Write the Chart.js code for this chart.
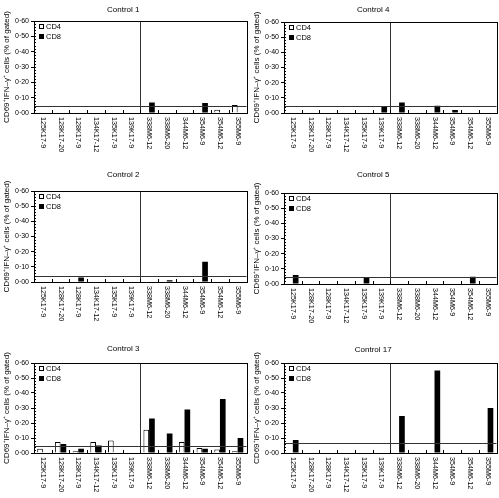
<!DOCTYPE html>
<html>
<head>
<meta charset="utf-8">
<script src="https://cdn.jsdelivr.net/npm/chart.js@4"></script>
<style>
  html, body { margin: 0; padding: 0; background: #fff; }
  #wrap { position: relative; width: 499px; height: 498px; }
  canvas { position: absolute; }
</style>
</head>
<body>
<div id="wrap"></div>
<script>
Chart.defaults.font.family = '"Liberation Sans", Arial, sans-serif';
Chart.defaults.color = '#000';

const categories = ['125K17-9', '128K17-20', '128K17-9', '134K17-12', '135K17-9', '139K17-9',
                    '338M6-12', '338M6-20', '344M6-12', '354M6-9', '354M6-12', '355M6-9'];
const yTicks = [0, 0.1, 0.2, 0.3, 0.4, 0.5, 0.6];

// values, % of gated
const control1CD4 = [null, null, null, null, null, null, null, null, null, null, 0.022, 0.052];
const control1CD8 = [null, null, null, null, null, null, 0.068, null, null, 0.066, null, null];
const control4CD4 = [null, null, null, null, null, null, null, null, null, null, null, null];
const control4CD8 = [null, null, null, null, null, 0.04, 0.07, null, 0.047, 0.02, null, null];
const control2CD4 = [null, null, null, null, null, null, null, null, null, null, null, null];
const control2CD8 = [null, null, 0.03, null, null, null, null, 0.012, null, 0.133, null, null];
const control5CD4 = [null, null, null, null, null, null, null, null, null, null, null, null];
const control5CD8 = [0.06, null, null, null, 0.045, null, null, null, null, null, 0.048, null];
const control3CD4 = [0.029, 0.073, 0.011, 0.073, 0.084, null, 0.155, null, 0.073, 0.033, 0.024, 0.011];
const control3CD8 = [null, 0.06, 0.029, 0.05, null, null, 0.23, 0.13, 0.29, 0.029, 0.36, 0.10];
const control17CD4 = [null, null, null, null, null, null, null, null, null, null, null, null];
const control17CD8 = [0.086, null, null, null, null, null, 0.247, null, 0.55, null, null, 0.30];

// cut-off line per donor
const thresholds = { c1: 0.048, c4: 0.045, c2: 0.04, c5: 0.045, c3: 0.046, c17: 0.064 };

const panels = [
    { title: 'Control 1',  cd4: control1CD4,  cd8: control1CD8,  cut: thresholds.c1,  x: 0,   y: 0,   h: 165, plotTop: 21, plotBottom: 113, titleY: 10 },
    { title: 'Control 4',  cd4: control4CD4,  cd8: control4CD8,  cut: thresholds.c4,  x: 250, y: 0,   h: 165, plotTop: 22, plotBottom: 113, titleY: 10 },
    { title: 'Control 2',  cd4: control2CD4,  cd8: control2CD8,  cut: thresholds.c2,  x: 0,   y: 165, h: 165, plotTop: 26, plotBottom: 117, titleY: 9.5 },
    { title: 'Control 5',  cd4: control5CD4,  cd8: control5CD8,  cut: thresholds.c5,  x: 250, y: 165, h: 165, plotTop: 28, plotBottom: 119, titleY: 9.5 },
    { title: 'Control 3',  cd4: control3CD4,  cd8: control3CD8,  cut: thresholds.c3,  x: 0,   y: 330, h: 168, plotTop: 33, plotBottom: 123, titleY: 19 },
    { title: 'Control 17', cd4: control17CD4, cd8: control17CD8, cut: thresholds.c17, x: 250, y: 330, h: 168, plotTop: 33, plotBottom: 123, titleY: 20 },
];

const W = 249, PLOT_LEFT = 34, PLOT_RIGHT = 246.5;
const TITLE_SIZE = 8;

/// frame, cut-off line, separator, minor ticks, legend and rotated labels
const extras = {
    id: 'extras',
    afterDatasetsDraw(chart) {
        const { ctx, chartArea: a, scales: { x, y } } = chart;
        const cut = chart.options.plugins.extras.cut;
        ctx.save();
        ctx.strokeStyle = '#000';
        ctx.lineWidth = 1;

        // cut-off line
        const yc = Math.round(y.getPixelForValue(cut)) + 0.5;
        ctx.strokeStyle = '#333';
        ctx.beginPath(); ctx.moveTo(a.left, yc); ctx.lineTo(a.right, yc); ctx.stroke();

        // K17 | M6 separator
        const xs = Math.round(x.getPixelForValue(5.5)) + 0.5;
        ctx.beginPath(); ctx.moveTo(xs, a.top); ctx.lineTo(xs, a.bottom); ctx.stroke();

        // frame
        ctx.strokeStyle = '#000';
        ctx.strokeRect(Math.round(a.left) + 0.5, Math.round(a.top) + 0.5,
                       Math.round(a.right - a.left), Math.round(a.bottom - a.top));

        // minor y ticks, inward
        ctx.beginPath();
        for (let v = 0.02; v < 0.6; v += 0.02) {
            const py = Math.round(y.getPixelForValue(v)) + 0.5;
            ctx.moveTo(a.left, py); ctx.lineTo(a.left + 2, py);
        }
        // x ticks at category boundaries, inward
        for (let i = 0; i < categories.length - 1; i++) {
            const px = Math.round(x.getPixelForValue(i + 0.5)) + 0.5;
            ctx.moveTo(px, a.bottom); ctx.lineTo(px, a.bottom - 3);
        }
        ctx.stroke();

        // legend
        ctx.font = '7.5px "Liberation Sans", Arial, sans-serif';
        ctx.textBaseline = 'middle';
        ctx.textAlign = 'left';
        ctx.fillStyle = '#000';
        const lx = Math.round(a.left) + 5;
        const ly1 = Math.round(a.top) + 6, ly2 = Math.round(a.top) + 16;
        ctx.strokeRect(lx + 0.5, ly1 - 2.5, 4, 4);
        ctx.fillRect(lx, ly2 - 3, 5, 5);
        ctx.fillText('CD4', lx + 7, ly1);
        ctx.fillText('CD8', lx + 7, ly2);

        // category labels, reading downward
        ctx.font = '7.2px "Liberation Sans", Arial, sans-serif';
        categories.forEach((lab, i) => {
            const px = x.getPixelForValue(i);
            ctx.save();
            ctx.translate(px, a.bottom + 4);
            ctx.rotate(Math.PI / 2);
            ctx.fillText(lab, 0, 0);
            ctx.restore();
        });
        ctx.restore();
    }
};

const wrap = document.getElementById('wrap');

panels.forEach((p, n) => {
    const canvas = document.createElement('canvas');
    canvas.width = W;
    canvas.height = p.h;
    canvas.style.left = p.x + 'px';
    canvas.style.top = p.y + 'px';
    canvas.id = 'panel' + n;
    wrap.appendChild(canvas);

    const half = TITLE_SIZE * 1.2 / 2;

    new Chart(canvas, {
        type: 'bar',
        data: {
            labels: categories,
            datasets: [
                {
                    label: 'CD4',
                    backgroundColor: '#fff',
                    borderColor: '#000',
                    borderWidth: 1,
                    data: p.cd4
                },
                {
                    label: 'CD8',
                    backgroundColor: '#000',
                    borderColor: '#000',
                    borderWidth: 0,
                    data: p.cd8
                }
            ]
        },
        options: {
            responsive: false,
            animation: false,
            layout: {
                padding: { left: 0, right: W - PLOT_RIGHT, top: 0, bottom: 0 }
            },
            datasets: {
                bar: { categoryPercentage: 0.64, barPercentage: 1 }
            },
            plugins: {
                legend: { display: false },
                tooltip: { enabled: false },
                title: {
                    display: true,
                    text: p.title,
                    color: '#000',
                    font: { size: TITLE_SIZE, weight: 'normal' },
                    padding: { top: p.titleY - half, bottom: p.plotTop - p.titleY - half }
                },
                extras: { cut: p.cut }
            },
            scales: {
                x: {
                    grid: { display: false },
                    border: { display: false },
                    ticks: { display: false },
                    afterFit: (scale) => { scale.height = p.h - p.plotBottom; }
                },
                y: {
                    min: 0,
                    max: 0.6,
                    afterBuildTicks: (scale) => { scale.ticks = yTicks.map(v => ({ value: v })); },
                    grid: { drawOnChartArea: false, drawTicks: true, tickLength: 3, color: '#000' },
                    border: { display: false },
                    ticks: {
                        padding: 2,
                        font: { size: 7 },
                        color: '#000',
                        callback: (v) => v.toFixed(2).replace('.', '\u00b7')
                    },
                    title: {
                        display: true,
                        text: 'CD69\u207aIFN\u2013\u03b3\u207a cells (% of gated)',
                        color: '#000',
                        font: { size: 8 },
                        padding: { top: 2, bottom: 0 }
                    },
                    afterFit: (scale) => { scale.width = PLOT_LEFT; }
                }
            }
        },
        plugins: [extras]
    });
});
</script>
</body>
</html>
